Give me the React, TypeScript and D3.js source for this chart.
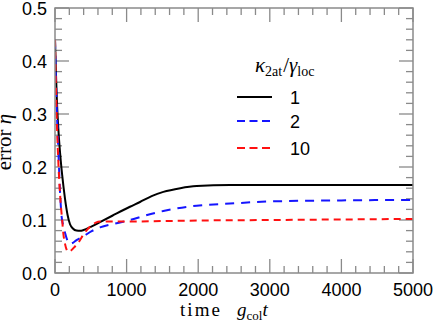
import * as d3 from "d3";

// time g_col t , error eta
const kappa1: [number, number][] = [
  [0, 0.44], [10, 0.39], [25, 0.33], [50, 0.265], [75, 0.22], [100, 0.185],
  [140, 0.14], [175, 0.11], [210, 0.092], [250, 0.084], [300, 0.08], [350, 0.0795],
  [400, 0.081], [500, 0.087], [628, 0.096], [800, 0.108], [1047, 0.125], [1187, 0.134],
  [1350, 0.145], [1513, 0.153], [1750, 0.16], [1979, 0.164], [2444, 0.166],
  [3000, 0.166], [4000, 0.166], [5000, 0.166],
];
const kappa2: [number, number][] = [
  [0, 0.44], [10, 0.38], [25, 0.31], [50, 0.22], [75, 0.14], [93, 0.106],
  [115, 0.09], [140, 0.076], [175, 0.061], [209, 0.055], [250, 0.057], [300, 0.062],
  [395, 0.069], [512, 0.079], [628, 0.086], [861, 0.094], [1047, 0.1], [1250, 0.108],
  [1513, 0.117], [1979, 0.127], [2444, 0.131], [3000, 0.135], [4000, 0.137], [5000, 0.138],
];
const kappa10: [number, number][] = [
  [0, 0.44], [10, 0.37], [25, 0.29], [50, 0.2], [75, 0.14], [100, 0.1],
  [116, 0.075], [140, 0.055], [165, 0.043], [186, 0.04], [220, 0.042], [279, 0.05],
  [340, 0.06], [395, 0.072], [450, 0.082], [512, 0.09], [570, 0.095], [628, 0.097],
  [1000, 0.097], [1500, 0.098], [2000, 0.099], [3000, 0.1], [4000, 0.101], [5000, 0.102],
];

const legendLabels = ["1", "2", "10"];
const xMajor = [0, 1000, 2000, 3000, 4000, 5000];
const yMajor = [0, 0.1, 0.2, 0.3, 0.4, 0.5];

const seriesList = [
  { data: kappa1, color: "#000000", dash: "" },
  { data: kappa2, color: "#1515ff", dash: "9,7" },
  { data: kappa10, color: "#ff1010", dash: "7,5" },
];

export default function App() {
  const W = 436, H = 329;
  const m = { left: 55, right: 23, top: 8, bottom: 56 };
  const x = d3.scaleLinear().domain([0, 5000]).range([m.left, W - m.right]);
  const y = d3.scaleLinear().domain([0, 0.5]).range([H - m.bottom, m.top]);
  const line = d3.line<[number, number]>()
    .x(d => x(d[0]))
    .y(d => y(d[1]))
    .curve(d3.curveMonotoneX);

  const x0 = x(0), x1 = x(5000), y0 = y(0), y1 = y(0.5);
  const xMinor = d3.range(0, 5001, 200);
  const yMinor = d3.range(0, 0.5001, 0.02);
  const gray = "#8a8a8a";
  const sans = "'Liberation Sans', Arial, sans-serif";
  const serif = "'Liberation Serif', 'DejaVu Serif', serif";

  return (
    <svg width={W} height={H} style={{ position: "absolute", left: 0, top: 0 }}>
      <defs>
        <clipPath id="plot">
          <rect x={x0} y={y1} width={x1 - x0} height={y0 - y1} />
        </clipPath>
      </defs>
      <rect width={W} height={H} fill="#fff" />

      {/* ticks, inward on all four sides */}
      <g stroke={gray} strokeWidth={1.3}>
        {xMinor.map(t => {
          const len = xMajor.includes(t) ? 14 : 7;
          return (
            <g key={"x" + t}>
              <line x1={x(t)} x2={x(t)} y1={y0} y2={y0 - len} />
              <line x1={x(t)} x2={x(t)} y1={y1} y2={y1 + len} />
            </g>
          );
        })}
        {yMinor.map((v, i) => {
          const len = i % 5 === 0 ? 14 : 7;
          return (
            <g key={"y" + i}>
              <line x1={x0} x2={x0 + len} y1={y(v)} y2={y(v)} />
              <line x1={x1} x2={x1 - len} y1={y(v)} y2={y(v)} />
            </g>
          );
        })}
      </g>

      <g clipPath="url(#plot)" fill="none" strokeWidth={2}>
        {seriesList.map((s, i) => (
          <path key={i} d={line(s.data) ?? ""} stroke={s.color} strokeDasharray={s.dash} />
        ))}
      </g>

      <rect x={x0} y={y1} width={x1 - x0} height={y0 - y1} fill="none" stroke={gray} strokeWidth={1.5} />

      {/* tick labels */}
      <g fontFamily={sans} fontSize={18} fill="#000">
        {yMajor.map(v => (
          <text key={v} x={47} y={y(v) + 6.5} textAnchor="end">{v.toFixed(1)}</text>
        ))}
        {xMajor.map(t => (
          <text key={t} x={x(t)} y={296} textAnchor="middle">{t}</text>
        ))}
      </g>

      {/* axis titles */}
      <text x={180} y={316} fontFamily={serif} fontSize={19} textLength={40}>time</text>
      <text x={237} y={316} fontFamily={serif} fontSize={19}>
        <tspan fontStyle="italic">g</tspan>
        <tspan fontSize={13} dy={4}>col</tspan>
        <tspan fontStyle="italic" dy={-4}>t</tspan>
      </text>
      <text transform={`translate(10.5,142) rotate(-90)`} textAnchor="middle" fontFamily={serif} fontSize={21}>
        error <tspan fontStyle="italic">η</tspan>
      </text>

      {/* legend */}
      <text x={255} y={72} fontFamily={serif} fontSize={21}>
        <tspan fontStyle="italic">κ</tspan>
        <tspan fontSize={14} dy={4}>2at</tspan>
        <tspan dy={-4} dx={1}>/</tspan>
        <tspan fontStyle="italic">γ</tspan>
        <tspan fontSize={14} dy={4}>loc</tspan>
      </text>
      {seriesList.map((s, i) => {
        const ly = [97, 121, 148][i];
        return (
          <g key={"lg" + i}>
            <line x1={237} x2={272} y1={ly} y2={ly} stroke={s.color} strokeWidth={2}
              strokeDasharray={i === 0 ? "" : "8,4.5"} />
            <text x={290} y={ly + 6.5} fontFamily={sans} fontSize={18}>{legendLabels[i]}</text>
          </g>
        );
      })}
    </svg>
  );
}
